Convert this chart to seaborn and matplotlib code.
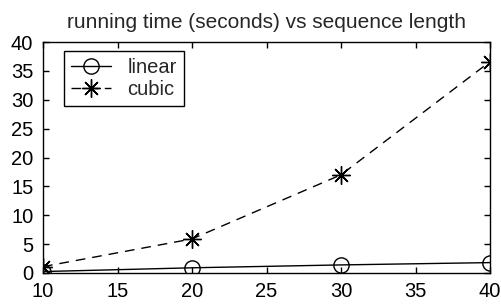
import matplotlib
matplotlib.use("Agg")
import matplotlib.pyplot as plt
import seaborn as sns
import pandas as pd

lengths = [10, 20, 30, 40]
linear_times = [0.25, 0.9, 1.4, 1.8]
cubic_times = [1.1, 5.9, 17.0, 36.6]
x_ticks = [10, 15, 20, 25, 30, 35, 40]
y_ticks = [0, 5, 10, 15, 20, 25, 30, 35, 40]
title = "running time (seconds) vs sequence length"

sns.set_style("ticks")
plt.rcParams['font.family'] = ['Liberation Sans', 'DejaVu Sans']
plt.rcParams['xtick.direction'] = 'in'
plt.rcParams['ytick.direction'] = 'in'

fig = plt.figure(figsize=(5.01, 3.05), dpi=100)
ax = fig.add_axes([43/501, 1 - 273/305, 447/501, 231/305])

df_lin = pd.DataFrame({"n": lengths, "t": linear_times})
df_cub = pd.DataFrame({"n": lengths, "t": cubic_times})

sns.lineplot(data=df_lin, x="n", y="t", ax=ax, color="black", linewidth=1.0,
             marker="o", markersize=11, markerfacecolor="none",
             markeredgecolor="black", markeredgewidth=1.0, label="linear")
sns.lineplot(data=df_cub, x="n", y="t", ax=ax, color="black", linewidth=1.0,
             linestyle=(0, (7, 5)), marker=(8, 2, 0), markersize=13,
             markeredgecolor="black", markeredgewidth=1.0, label="cubic")

ax.set_xlim(10, 40)
ax.set_ylim(0, 40)
ax.set_xticks(x_ticks)
ax.set_yticks(y_ticks)
ax.tick_params(axis='both', which='both', direction='in', top=True, right=True,
               length=4, width=1, labelsize=14.5, colors='black')
ax.tick_params(axis='x', pad=6.5)
ax.tick_params(axis='y', pad=7)
for s in ax.spines.values():
    s.set_visible(True)
    s.set_color("black")
    s.set_linewidth(1.0)
ax.set_xlabel("")
ax.set_ylabel("")
ax.set_title(title, fontsize=15, pad=10)

leg = ax.legend(loc="upper left", bbox_to_anchor=(0.047, 0.961), fontsize=14.5,
                frameon=True, fancybox=False, edgecolor="black", framealpha=1,
                borderpad=0.35, labelspacing=0.15, handlelength=2.0,
                handletextpad=0.8, borderaxespad=0)
leg.get_frame().set_linewidth(1.0)

fig.savefig("out.png", dpi=100)
